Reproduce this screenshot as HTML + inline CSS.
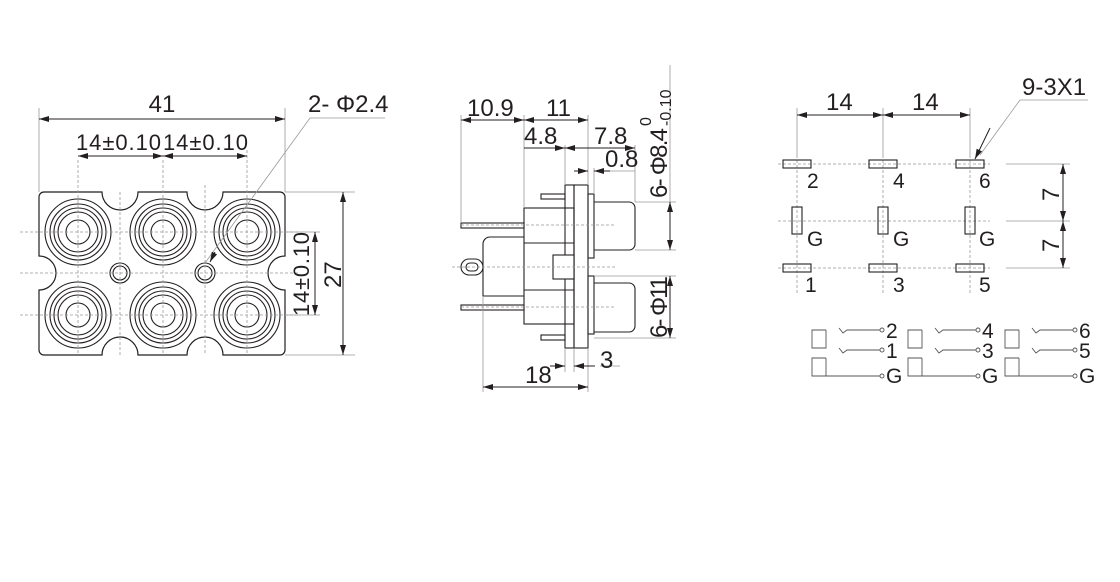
<!DOCTYPE html>
<html><head><meta charset="utf-8"><style>
html,body{margin:0;padding:0;background:#fff;}
svg{display:block;}
text{font-family:"Liberation Sans",sans-serif;fill:#231f20;}
</style></head><body>
<svg width="1120" height="582" viewBox="0 0 1120 582" xmlns="http://www.w3.org/2000/svg">
<defs>
<marker id="a" viewBox="0 0 10 6" refX="10" refY="3" markerWidth="10" markerHeight="6" orient="auto-start-reverse" markerUnits="userSpaceOnUse"><path d="M0,0 L10,3 L0,6 z" fill="#231f20"/></marker>
</defs>
<g stroke="#231f20" fill="none" stroke-width="1">
<!-- LEFT VIEW -->
<path d="M44,192 H102 A18,18 0 0 0 138,192 H187 A18,18 0 0 0 223,192 H280 A5,5 0 0 1 285,197 V256 A17,17 0 0 0 285,290 V350 A5,5 0 0 1 280,355 H223 A18,18 0 0 0 187,355 H138 A18,18 0 0 0 102,355 H44 A5,5 0 0 1 39,350 V290 A17,17 0 0 0 39,256 V197 A5,5 0 0 1 44,192 Z" stroke-width="1.2"/>
<g stroke-width="1.1">
<circle cx="78" cy="232" r="33"/><circle cx="78" cy="232" r="28"/><circle cx="78" cy="232" r="24"/><circle cx="78" cy="232" r="20"/><circle cx="78" cy="232" r="12"/>
<circle cx="163" cy="232" r="33"/><circle cx="163" cy="232" r="28"/><circle cx="163" cy="232" r="24"/><circle cx="163" cy="232" r="20"/><circle cx="163" cy="232" r="12"/>
<circle cx="247" cy="232" r="33"/><circle cx="247" cy="232" r="28"/><circle cx="247" cy="232" r="24"/><circle cx="247" cy="232" r="20"/><circle cx="247" cy="232" r="12"/>
<circle cx="78" cy="315" r="33"/><circle cx="78" cy="315" r="28"/><circle cx="78" cy="315" r="24"/><circle cx="78" cy="315" r="20"/><circle cx="78" cy="315" r="12"/>
<circle cx="163" cy="315" r="33"/><circle cx="163" cy="315" r="28"/><circle cx="163" cy="315" r="24"/><circle cx="163" cy="315" r="20"/><circle cx="163" cy="315" r="12"/>
<circle cx="247" cy="315" r="33"/><circle cx="247" cy="315" r="28"/><circle cx="247" cy="315" r="24"/><circle cx="247" cy="315" r="20"/><circle cx="247" cy="315" r="12"/>
<circle cx="120" cy="273" r="10"/><circle cx="120" cy="273" r="7"/>
<circle cx="205" cy="273" r="10"/><circle cx="205" cy="273" r="7"/>
</g>
<g stroke="#999" stroke-width="0.8" stroke-dasharray="3,2">
<line x1="20" y1="232" x2="300" y2="232"/><line x1="20" y1="273" x2="300" y2="273"/><line x1="20" y1="315" x2="300" y2="315"/>
<line x1="78" y1="160" x2="78" y2="355"/><line x1="163" y1="160" x2="163" y2="355"/><line x1="247" y1="150" x2="247" y2="355"/>
<line x1="120" y1="192" x2="120" y2="355"/><line x1="205" y1="185" x2="205" y2="355"/>
</g>
<g stroke="#999" stroke-width="0.8">
<line x1="39" y1="108" x2="39" y2="192"/><line x1="285" y1="108" x2="285" y2="192"/>
<line x1="285" y1="192" x2="355" y2="192"/><line x1="285" y1="355" x2="355" y2="355"/>
<line x1="285" y1="232" x2="320" y2="232"/><line x1="285" y1="315" x2="320" y2="315"/>
<line x1="205" y1="263" x2="310" y2="118"/><line x1="310" y1="118" x2="385" y2="118"/>
</g>
<line x1="39" y1="119" x2="285" y2="119" marker-start="url(#a)" marker-end="url(#a)"/>
<line x1="78" y1="156" x2="163" y2="156" marker-start="url(#a)" marker-end="url(#a)"/>
<line x1="163" y1="156" x2="247" y2="156" marker-start="url(#a)" marker-end="url(#a)"/>
<line x1="343" y1="192" x2="343" y2="355" marker-start="url(#a)" marker-end="url(#a)"/>
<line x1="315" y1="232" x2="315" y2="315" marker-start="url(#a)" marker-end="url(#a)"/>
<line x1="215" y1="252" x2="210" y2="262" marker-end="url(#a)"/>

<!-- MIDDLE VIEW -->
<g stroke-width="1.1">
<rect x="565" y="185" width="9" height="163"/>
<rect x="574" y="185" width="14" height="163"/>
<rect x="588" y="194" width="6" height="64"/>
<rect x="588" y="276" width="6" height="58"/>
<rect x="524" y="208" width="50" height="116"/>
<line x1="524" y1="243" x2="574" y2="243"/><line x1="524" y1="290" x2="574" y2="290"/>
<path d="M524,237 H490 A7,7 0 0 0 483,244 V296 H524"/>
<rect x="461" y="259" width="22" height="16" rx="8"/>
<rect x="466" y="263" width="12" height="8" rx="4"/>
<rect x="553" y="255" width="21" height="24" fill="#fff"/>
<rect x="541" y="194" width="24" height="5"/>
<rect x="541" y="335" width="24" height="5"/>
<rect x="461" y="223" width="63" height="5"/>
<rect x="461" y="305" width="63" height="5"/>
<path d="M594,202 H629 A6,6 0 0 1 635,208 V244 A6,6 0 0 1 629,250 H594"/>
<path d="M594,283 H629 A6,6 0 0 1 635,289 V326 A6,6 0 0 1 629,332 H594"/>
</g>
<g stroke="#999" stroke-width="0.8" stroke-dasharray="3,2">
<line x1="461" y1="225" x2="615" y2="225"/><line x1="452" y1="267" x2="615" y2="267"/><line x1="461" y1="307" x2="615" y2="307"/>
</g>
<g stroke="#999" stroke-width="0.8">
<line x1="461" y1="115" x2="461" y2="223"/><line x1="524" y1="115" x2="524" y2="208"/><line x1="588" y1="115" x2="588" y2="185"/>
<line x1="565" y1="145" x2="565" y2="185"/><line x1="594" y1="168" x2="594" y2="194"/><line x1="635" y1="145" x2="635" y2="202"/>
<line x1="483" y1="296" x2="483" y2="392"/><line x1="588" y1="348" x2="588" y2="392"/>
<line x1="565" y1="348" x2="565" y2="372"/><line x1="574" y1="348" x2="574" y2="372"/>
<line x1="635" y1="202" x2="676" y2="202"/><line x1="635" y1="250" x2="676" y2="250"/>
<line x1="594" y1="276" x2="676" y2="276"/><line x1="594" y1="338" x2="676" y2="338"/>
<line x1="670" y1="65" x2="670" y2="202"/>
<line x1="600" y1="366" x2="620" y2="366"/>
<line x1="594" y1="171" x2="635" y2="171"/>
</g>
<line x1="461" y1="120" x2="524" y2="120" marker-start="url(#a)" marker-end="url(#a)"/>
<line x1="524" y1="120" x2="588" y2="120" marker-start="url(#a)" marker-end="url(#a)"/>
<line x1="524" y1="148" x2="565" y2="148" marker-end="url(#a)"/>
<line x1="565" y1="148" x2="635" y2="148" marker-start="url(#a)" marker-end="url(#a)"/>
<line x1="574" y1="171" x2="588" y2="171" marker-end="url(#a)"/>
<line x1="610" y1="171" x2="594" y2="171" marker-end="url(#a)"/>
<line x1="670" y1="202" x2="670" y2="250" marker-start="url(#a)" marker-end="url(#a)"/>
<line x1="670" y1="276" x2="670" y2="338" marker-start="url(#a)" marker-end="url(#a)"/>
<line x1="483" y1="387" x2="588" y2="387" marker-start="url(#a)" marker-end="url(#a)"/>
<line x1="550" y1="366" x2="565" y2="366" marker-end="url(#a)"/>
<line x1="595" y1="366" x2="574" y2="366" marker-end="url(#a)"/>

<!-- RIGHT VIEW -->
<g stroke="#999" stroke-width="0.8" stroke-dasharray="3,2">
<line x1="778" y1="164" x2="990" y2="164"/><line x1="778" y1="221" x2="990" y2="221"/><line x1="778" y1="268" x2="990" y2="268"/>
<line x1="797" y1="155" x2="797" y2="295"/><line x1="883" y1="155" x2="883" y2="295"/><line x1="970" y1="155" x2="970" y2="295"/>
</g>
<g stroke="#999" stroke-width="0.8">
<line x1="797" y1="108" x2="797" y2="155"/><line x1="883" y1="108" x2="883" y2="155"/><line x1="970" y1="108" x2="970" y2="155"/>
<line x1="1006" y1="164" x2="1070" y2="164"/><line x1="1006" y1="221" x2="1070" y2="221"/><line x1="1006" y1="268" x2="1070" y2="268"/>
<line x1="1020" y1="100" x2="980" y2="155"/><line x1="1020" y1="100" x2="1088" y2="100"/>
</g>
<line x1="990" y1="128" x2="975" y2="159" marker-end="url(#a)"/>
<g stroke-width="1.1">
<rect x="783" y="160" width="28" height="8"/><rect x="869" y="160" width="28" height="8"/><rect x="956" y="160" width="28" height="8"/>
<rect x="783" y="264" width="28" height="8"/><rect x="869" y="264" width="28" height="8"/><rect x="956" y="264" width="28" height="8"/>
<rect x="792" y="207" width="10" height="27"/><rect x="878" y="207" width="10" height="27"/><rect x="965" y="207" width="10" height="27"/>
</g>
<line x1="797" y1="115" x2="883" y2="115" marker-start="url(#a)" marker-end="url(#a)"/>
<line x1="883" y1="115" x2="970" y2="115" marker-start="url(#a)" marker-end="url(#a)"/>
<line x1="1063" y1="164" x2="1063" y2="221" marker-start="url(#a)" marker-end="url(#a)"/>
<line x1="1063" y1="221" x2="1063" y2="268" marker-start="url(#a)" marker-end="url(#a)"/>

<!-- schematic groups -->
<g id="sg" stroke="#555" stroke-width="0.9">
<path d="M826,330 H812 V348 H826 V330"/>
<path d="M826,358 H812 V376 H826 V358 V376 H880"/>
<path d="M839,328 L843,333 L847,330 H880"/>
<path d="M839,348 L843,353 L847,350 H880"/>
<circle cx="882" cy="330" r="2"/><circle cx="882" cy="350" r="2"/><circle cx="882" cy="376" r="2"/>
</g>
<use href="#sg" x="96"/>
<use href="#sg" x="193"/>
</g>

<!-- TEXT -->
<g font-size="24">
<text x="162" y="112" text-anchor="middle">41</text>
<text x="308" y="112">2- Φ2.4</text>
<text x="76" y="150" font-size="22" textLength="85">14±0.10</text>
<text x="163" y="150" font-size="22" textLength="85">14±0.10</text>
<text transform="translate(309,316) rotate(-90)" font-size="22" textLength="84">14±0.10</text>
<text transform="translate(341,288) rotate(-90)">27</text>

<text x="467" y="116">10.9</text>
<text x="546" y="116">11</text>
<text x="524" y="144">4.8</text>
<text x="594" y="144">7.8</text>
<text x="605" y="167">0.8</text>
<text transform="translate(667,198) rotate(-90)" textLength="70">6- Φ8.4</text>
<text transform="translate(651,126) rotate(-90)" font-size="16">0</text>
<text transform="translate(671,126) rotate(-90)" font-size="16">-0.10</text>
<text transform="translate(667,338) rotate(-90)" textLength="62">6- Φ11</text>
<text x="525" y="383">18</text>
<text x="600" y="368">3</text>

<text x="826" y="110">14</text>
<text x="912" y="110">14</text>
<text x="1022" y="95">9-3X1</text>
<text x="807" y="188" font-size="21">2</text><text x="893" y="188" font-size="21">4</text><text x="979" y="188" font-size="21">6</text>
<text x="807" y="246" font-size="21">G</text><text x="893" y="246" font-size="21">G</text><text x="979" y="246" font-size="21">G</text>
<text x="805" y="292" font-size="21">1</text><text x="893" y="292" font-size="21">3</text><text x="979" y="292" font-size="21">5</text>
<text transform="translate(1059,201) rotate(-90)">7</text>
<text transform="translate(1059,252) rotate(-90)">7</text>

<text x="886" y="338" font-size="21">2</text><text x="886" y="358" font-size="21">1</text><text x="886" y="383" font-size="21">G</text>
<text x="982" y="338" font-size="21">4</text><text x="982" y="358" font-size="21">3</text><text x="982" y="383" font-size="21">G</text>
<text x="1079" y="338" font-size="21">6</text><text x="1079" y="358" font-size="21">5</text><text x="1079" y="383" font-size="21">G</text>
</g>
</svg>
</body></html>
